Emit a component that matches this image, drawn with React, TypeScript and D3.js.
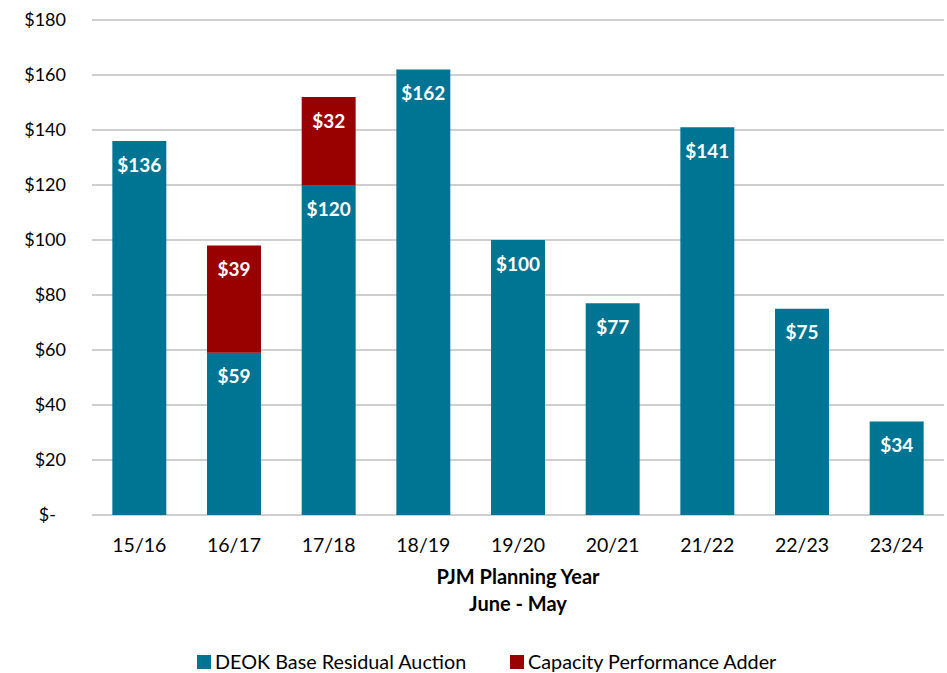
import React, { useEffect, useRef } from "react";
import * as d3 from "d3";

const years = ["15/16", "16/17", "17/18", "18/19", "19/20", "20/21", "21/22", "22/23", "23/24"];
const baseResidual = [136, 59, 120, 162, 100, 77, 141, 75, 34];
const perfAdder = [0, 39, 32, 0, 0, 0, 0, 0, 0];
const yTicks = [0, 20, 40, 60, 80, 100, 120, 140, 160, 180];
const seriesNames = ["DEOK Base Residual Auction", "Capacity Performance Adder"];

const TEAL = "#007493";
const RED = "#990000";
const FONT = "Lato, 'Open Sans', sans-serif";

export default function App() {
  const svgRef = useRef<SVGSVGElement | null>(null);
  const width = 947;
  const height = 673;
  const margin = { top: 20, right: 3, bottom: 158, left: 92 };

  useEffect(() => {
    const svg = d3.select(svgRef.current);
    svg.selectAll("*").remove();

    const innerW = width - margin.left - margin.right;
    const innerH = height - margin.top - margin.bottom;

    const x = d3.scaleBand<string>().domain(years).range([0, innerW]).paddingInner(0.43).paddingOuter(0.215);
    const y = d3.scaleLinear().domain([0, 180]).range([innerH, 0]);

    const g = svg.append("g").attr("transform", `translate(${margin.left},${margin.top})`);

    // gridlines
    g.selectAll("line.grid")
      .data(yTicks)
      .join("line")
      .attr("x1", 0)
      .attr("x2", innerW)
      .attr("y1", (d) => y(d))
      .attr("y2", (d) => y(d))
      .attr("stroke", "#bfbfbf")
      .attr("stroke-width", 1.5);

    g.selectAll("text.ytick")
      .data(yTicks)
      .join("text")
      .attr("x", (d) => (d === 0 ? -36 : -26))
      .attr("y", (d) => y(d))
      .attr("dy", "0.35em")
      .attr("text-anchor", "end")
      .attr("font-family", FONT)
      .attr("font-size", 18)
      .attr("fill", "#000")
      .text((d) => (d === 0 ? "$-" : `$${d}`));

    const bw = x.bandwidth();

    years.forEach((yr, i) => {
      const x0 = x(yr)!;
      const b = baseResidual[i];
      const a = perfAdder[i];
      g.append("rect")
        .attr("x", x0)
        .attr("y", y(b))
        .attr("width", bw)
        .attr("height", y(0) - y(b))
        .attr("fill", TEAL);
      g.append("text")
        .attr("x", x0 + bw / 2)
        .attr("y", y(b) + 24)
        .attr("dy", "0.35em")
        .attr("text-anchor", "middle")
        .attr("font-family", FONT)
        .attr("font-weight", "bold")
        .attr("font-size", 19)
        .attr("fill", "#fff")
        .text(`$${b}`);
      if (a > 0) {
        g.append("rect")
          .attr("x", x0)
          .attr("y", y(b + a))
          .attr("width", bw)
          .attr("height", y(b) - y(b + a))
          .attr("fill", RED);
        g.append("text")
          .attr("x", x0 + bw / 2)
          .attr("y", y(b + a) + 24)
          .attr("dy", "0.35em")
          .attr("text-anchor", "middle")
          .attr("font-family", FONT)
          .attr("font-weight", "bold")
          .attr("font-size", 19)
          .attr("fill", "#fff")
          .text(`$${a}`);
      }
      g.append("text")
        .attr("x", x0 + bw / 2)
        .attr("y", innerH + 30)
        .attr("dy", "0.35em")
        .attr("text-anchor", "middle")
        .attr("font-family", FONT)
        .attr("font-size", 19.5)
        .attr("fill", "#000")
        .text(yr);
    });

    // axis title
    const title = g.append("text")
      .attr("text-anchor", "middle")
      .attr("font-family", FONT)
      .attr("font-weight", "bold")
      .attr("font-size", 20)
      .attr("fill", "#000");
    title.append("tspan").attr("x", innerW / 2).attr("y", innerH + 69).text("PJM Planning Year");
    title.append("tspan").attr("x", innerW / 2).attr("y", innerH + 96).text("June - May");

    // legend
    const legend = svg.append("g");
    const legendX = [197, 510];
    seriesNames.forEach((name, i) => {
      legend.append("rect")
        .attr("x", legendX[i])
        .attr("y", 655)
        .attr("width", 14)
        .attr("height", 14)
        .attr("fill", i === 0 ? TEAL : RED);
      legend.append("text")
        .attr("x", legendX[i] + 18)
        .attr("y", 662)
        .attr("dy", "0.35em")
        .attr("font-family", FONT)
        .attr("font-size", 19.8)
        .attr("fill", "#000")
        .text(name);
    });
  }, []);

  return (
    <svg
      ref={svgRef}
      width={width}
      height={height}
      style={{ position: "absolute", left: 0, top: 0, background: "#fff" }}
    />
  );
}
